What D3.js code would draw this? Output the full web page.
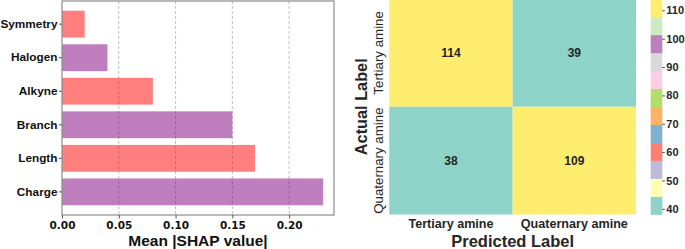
<!DOCTYPE html>
<html>
<head>
<meta charset="utf-8">
<script src="https://cdn.jsdelivr.net/npm/d3@7"></script>
<style>
  body { margin: 0; background: #fff; }
  svg { display: block; }
</style>
</head>
<body>
<div id="chart"></div>
<script>
// feature importance (bottom to top)
const features = ["Charge", "Length", "Branch", "Alkyne", "Halogen", "Symmetry"];
const shapValues = [0.23, 0.17, 0.15, 0.08, 0.04, 0.02];
const barColors = ["purple", "red", "purple", "red", "purple", "red"];
const shapTicks = [0.00, 0.05, 0.10, 0.15, 0.20];

// confusion matrix
const classes = ["Tertiary amine", "Quaternary amine"];
const matrix = [[114, 39], [38, 109]];
const cbarTicks = [40, 50, 60, 70, 80, 90, 100, 110];

const W = 685, H = 249;
const svg = d3.select("#chart").append("svg")
  .attr("width", W)
  .attr("height", H)
  .style("font-family", "'Liberation Sans', Arial, sans-serif");

// ---------- left: bar chart ----------
const left = { x0: 62, x1: 334, y0: 1, y1: 215 };

const xScale = d3.scaleLinear()
  .domain([0, 0.2395])
  .range([left.x0, left.x1]);

const yScale = d3.scaleBand()
  .domain(features)
  .range([left.y1, left.y0])
  .paddingInner(0.2)
  .paddingOuter(0.29);

// grid
svg.append("g").selectAll("line")
  .data(shapTicks.slice(1))
  .enter().append("line")
  .attr("x1", d => xScale(d))
  .attr("x2", d => xScale(d))
  .attr("y1", left.y0)
  .attr("y2", left.y1)
  .attr("stroke", "#b0b0b0")
  .attr("stroke-width", 0.8)
  .attr("stroke-dasharray", "3,2");

// bars
svg.append("g").selectAll("rect")
  .data(features)
  .enter().append("rect")
  .attr("x", xScale(0))
  .attr("y", d => yScale(d))
  .attr("height", yScale.bandwidth())
  .attr("width", (d, i) => xScale(shapValues[i]) - xScale(0))
  .attr("fill", (d, i) => barColors[i])
  .attr("fill-opacity", 0.5);

// frame
svg.append("rect")
  .attr("x", left.x0)
  .attr("y", left.y0)
  .attr("width", left.x1 - left.x0)
  .attr("height", left.y1 - left.y0)
  .attr("fill", "none")
  .attr("stroke", "#8c8c8c")
  .attr("stroke-width", 1.2);

const xAxis = svg.append("g")
  .attr("transform", `translate(0,${left.y1})`)
  .call(d3.axisBottom(xScale).tickValues(shapTicks).tickFormat(d3.format(".2f")).tickSize(3.5).tickPadding(3));
xAxis.select(".domain").remove();
xAxis.selectAll("line").attr("stroke", "#555");
xAxis.selectAll("text")
  .attr("fill", "#111")
  .style("font-family", "'DejaVu Sans', sans-serif")
  .style("font-weight", "bold")
  .style("font-size", "10.5px");

const yAxis = svg.append("g")
  .attr("transform", `translate(${left.x0},0)`)
  .call(d3.axisLeft(yScale).tickSize(3).tickPadding(1.5));
yAxis.select(".domain").remove();
yAxis.selectAll("line").attr("stroke", "#555");
yAxis.selectAll("text")
  .attr("fill", "#111")
  .style("font-weight", "bold")
  .style("font-size", "11.8px");

svg.append("text")
  .attr("x", (left.x0 + left.x1) / 2)
  .attr("y", 246)
  .attr("text-anchor", "middle")
  .style("font-weight", "bold")
  .style("font-size", "15.5px")
  .attr("fill", "#111")
  .text("Mean |SHAP value|");

// ---------- right: confusion matrix ----------
const hm = { x0: 389.3, x1: 636, y0: -1, y1: 214.5 };

const cx = d3.scaleBand().domain(classes).range([hm.x0, hm.x1]);
const cy = d3.scaleBand().domain(classes).range([hm.y0, hm.y1]);

const vmin = 38, vmax = 114;
const colorScale = d3.scaleQuantize()
  .domain([vmin, vmax])
  .range(d3.schemeSet3);

const cells = [];
matrix.forEach((row, i) => row.forEach((v, j) => cells.push({ r: classes[i], c: classes[j], v: v })));

svg.append("g").selectAll("rect")
  .data(cells)
  .enter().append("rect")
  .attr("x", d => cx(d.c))
  .attr("y", d => cy(d.r))
  .attr("width", cx.bandwidth())
  .attr("height", cy.bandwidth())
  .attr("fill", d => colorScale(d.v));

svg.append("g").selectAll("text")
  .data(cells)
  .enter().append("text")
  .attr("x", d => cx(d.c) + cx.bandwidth() / 2)
  .attr("y", d => cy(d.r) + cy.bandwidth() / 2)
  .attr("dy", "0.35em")
  .attr("text-anchor", "middle")
  .style("font-weight", "bold")
  .style("font-size", "12px")
  .attr("fill", "#262626")
  .text(d => d.v);

// x tick labels
const cxAxis = svg.append("g")
  .attr("transform", `translate(0,${hm.y1})`)
  .call(d3.axisBottom(cx).tickSize(0).tickPadding(5));
cxAxis.select(".domain").remove();
cxAxis.selectAll("text")
  .attr("fill", "#262626")
  .style("font-weight", "bold")
  .style("font-size", "12.6px");

// y tick labels (rotated)
svg.append("g").selectAll("text")
  .data(classes)
  .enter().append("text")
  .attr("transform", d => `translate(382.7,${cy(d) + cy.bandwidth() / 2}) rotate(-90)`)
  .attr("text-anchor", "middle")
  .style("font-size", "13.3px")
  .attr("fill", "#262626")
  .text(d => d);

svg.append("text")
  .attr("x", (hm.x0 + hm.x1) / 2)
  .attr("y", 246.5)
  .attr("text-anchor", "middle")
  .style("font-weight", "bold")
  .style("font-size", "16.5px")
  .attr("fill", "#262626")
  .text("Predicted Label");

svg.append("text")
  .attr("transform", `translate(366.7,${(hm.y0 + hm.y1) / 2}) rotate(-90)`)
  .attr("text-anchor", "middle")
  .style("font-weight", "bold")
  .style("font-size", "16.3px")
  .attr("fill", "#262626")
  .text("Actual Label");

// colorbar
const cb = { x0: 650.7, x1: 662.3 };
const cbScale = d3.scaleLinear().domain([vmin, vmax]).range([hm.y1, hm.y0]);
const step = (vmax - vmin) / d3.schemeSet3.length;

svg.append("g").selectAll("rect")
  .data(d3.schemeSet3)
  .enter().append("rect")
  .attr("x", cb.x0)
  .attr("width", cb.x1 - cb.x0)
  .attr("y", (d, i) => cbScale(vmin + (i + 1) * step))
  .attr("height", (d, i) => cbScale(vmin + i * step) - cbScale(vmin + (i + 1) * step) + 0.3)
  .attr("fill", d => d);

const cbAxis = svg.append("g")
  .attr("transform", `translate(${cb.x1},0)`)
  .call(d3.axisRight(cbScale).tickValues(cbarTicks).tickSize(2.5).tickPadding(1.5));
cbAxis.select(".domain").remove();
cbAxis.selectAll("line").attr("stroke", "#444");
cbAxis.selectAll("text")
  .attr("fill", "#262626")
  .style("font-weight", "bold")
  .style("font-size", "11px");
</script>
</body>
</html>
